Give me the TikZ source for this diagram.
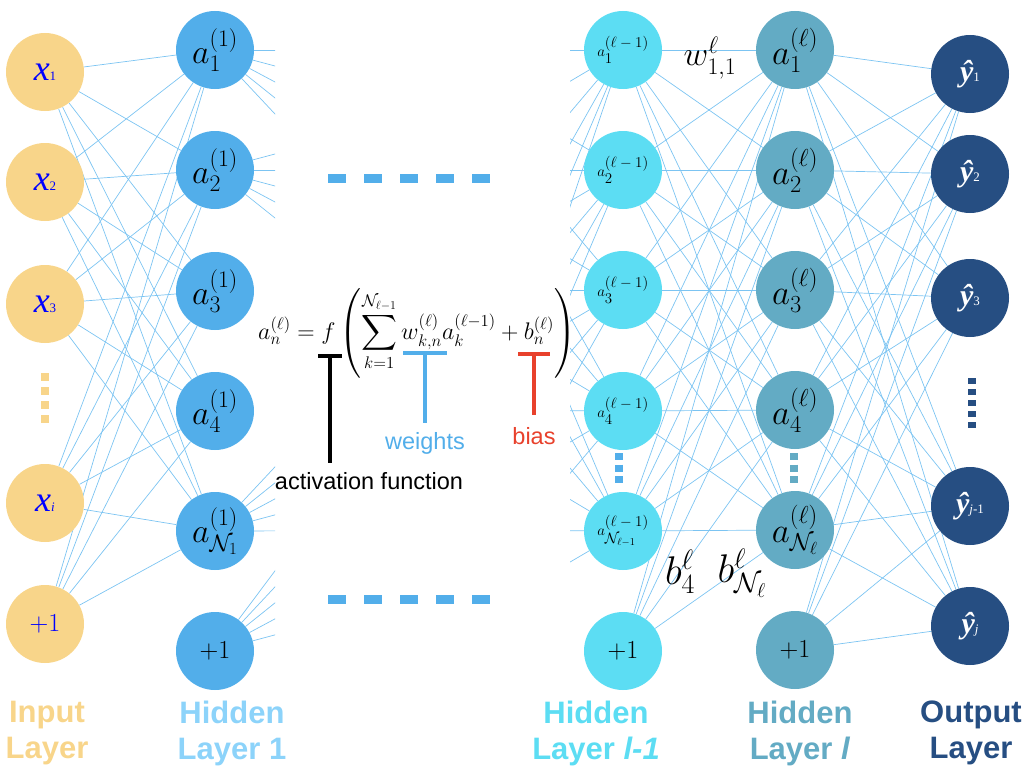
\RequirePackage{fix-cm}
\documentclass[tikz,border=0pt]{standalone}
\usepackage{amsmath}
\usepackage{fontspec}
\newfontfamily\arialfont{Liberation Sans}
\newfontfamily\timesfont{Liberation Serif}
\usepackage{tikz}
\usetikzlibrary{arrows.meta,backgrounds}

\definecolor{inputcol}{HTML}{F8D58A}
\definecolor{hidonecol}{HTML}{52AEEA}
\definecolor{hidonetxt}{HTML}{8CD3FA}
\definecolor{hidprevcol}{HTML}{5CDDF3}
\definecolor{hidcurcol}{HTML}{63ABC4}
\definecolor{outcol}{HTML}{264E82}
\definecolor{edgecol}{HTML}{7CC4F2}
\definecolor{biascol}{HTML}{E8412C}

\newcommand{\xin}[1]{{\timesfont\fontsize{36}{36}\selectfont\itshape x}{\timesfont\fontsize{13}{13}\selectfont #1}}
\newcommand{\yhat}[1]{{\timesfont\bfseries\itshape\fontsize{30}{30}\selectfont ŷ}{\timesfont\fontsize{13}{13}\selectfont #1}}
\newcommand{\aprev}[1]{$a_{\textstyle #1}^{\textstyle(\ell-1)}$}

\tikzset{
  neuron/.style={circle,minimum size=78pt,inner sep=0pt},
  inputneuron/.style={neuron,fill=inputcol,text=blue},
  hiddenone/.style={neuron,fill=hidonecol,font=\fontsize{34}{36}\selectfont},
  hiddenprev/.style={neuron,fill=hidprevcol,font=\fontsize{15}{17}\selectfont},
  hiddencur/.style={neuron,fill=hidcurcol,font=\fontsize{35}{37}\selectfont},
  outneuron/.style={neuron,fill=outcol,text=white},
  plusone/.style={font=\fontsize{26}{28}\selectfont},
  edge/.style={draw=edgecol,line width=0.7pt},
  layerlabel/.style={font=\arialfont\bfseries\fontsize{31}{36}\selectfont,align=center},
  dotcol/.style={line width=8pt},
  bigdash/.style={draw=hidonecol,line width=9pt,dash pattern=on 18pt off 18pt},
  annot/.style={font=\arialfont\fontsize{23.5}{26}\selectfont,inner sep=0pt},
  teebar/.style={line width=4pt}
}

\begin{document}
\begin{tikzpicture}[x=1pt,y=-1pt]
\useasboundingbox (0,0) rectangle (1024,768);

% input layer
\node[inputneuron] (I1) at (45,72) {\xin{1}};
\node[inputneuron] (I2) at (45,182) {\xin{2}};
\node[inputneuron] (I3) at (45,304) {\xin{3}};
\node[inputneuron] (I4) at (45,503) {\xin{\itshape i}};
\node[inputneuron,plusone] (I5) at (45,624) {$+1$};

% hidden layer 1
\node[hiddenone] (H1) at (215,50) {$a_1^{(1)}$};
\node[hiddenone] (H2) at (215,170) {$a_2^{(1)}$};
\node[hiddenone] (H3) at (215,291) {$a_3^{(1)}$};
\node[hiddenone] (H4) at (215,411) {$a_4^{(1)}$};
\node[hiddenone] (H5) at (215,531) {$a_{\mathcal{N}_1}^{(1)}$};
\node[hiddenone,plusone] (H6) at (215,651) {$+1$};

% hidden layer l-1
\node[hiddenprev] (P1) at (623,50) {\aprev{1}};
\node[hiddenprev] (P2) at (623,170) {\aprev{2}};
\node[hiddenprev] (P3) at (623,290) {\aprev{3}};
\node[hiddenprev] (P4) at (623,411) {\aprev{4}};
\node[hiddenprev] (P5) at (623,531) {\aprev{\mathcal{N}_{\ell-1}}};
\node[hiddenprev,plusone] (P6) at (623,651) {$+1$};

% hidden layer l
\node[hiddencur] (L1) at (795,50) {$a_1^{(\ell)}$};
\node[hiddencur] (L2) at (795,170) {$a_2^{(\ell)}$};
\node[hiddencur] (L3) at (795,290) {$a_3^{(\ell)}$};
\node[hiddencur] (L4) at (795,410) {$a_4^{(\ell)}$};
\node[hiddencur] (L5) at (795,530) {$a_{\mathcal{N}_\ell}^{(\ell)}$};
\node[hiddencur,plusone] (L6) at (795,650) {$+1$};

% output layer
\node[outneuron] (O1) at (970,74) {\yhat{1}};
\node[outneuron] (O2) at (970,174) {\yhat{2}};
\node[outneuron] (O3) at (970,298) {\yhat{3}};
\node[outneuron] (O4) at (970,506) {\yhat{{\itshape j}-1}};
\node[outneuron] (O5) at (970,626) {\yhat{\itshape j}};

% layers not shown
\coordinate (M1) at (420,50);
\coordinate (M2) at (420,170);
\coordinate (M3) at (420,290);
\coordinate (M4) at (420,410);
\coordinate (M5) at (420,530);
\coordinate (M6) at (420,650);
\coordinate (N1) at (665,50);
\coordinate (N2) at (665,170);
\coordinate (N3) at (665,290);
\coordinate (N4) at (665,410);
\coordinate (N5) at (665,530);

\begin{pgfonlayer}{background}
\foreach \i in {1,...,5}
  \foreach \j in {1,...,5}
    \draw[edge] (I\i) -- (H\j);
\foreach \i in {1,...,6}
  \foreach \j in {1,...,5}
    \draw[edge] (P\i) -- (L\j);
\foreach \i in {1,...,6}
  \foreach \j in {1,...,5}
    \draw[edge] (L\i) -- (O\j);
\begin{scope}
\clip (0,0) rectangle (275,768);
\foreach \i in {1,2,5,6}
  \foreach \j in {1,...,5}
    \draw[edge] (H\i) -- (N\j);
\end{scope}
\begin{scope}
\clip (570,0) rectangle (1024,768);
\foreach \i in {1,...,5}
  \foreach \j in {1,...,6}
    \draw[edge] (M\j) -- (P\i);
\end{scope}
\end{pgfonlayer}

% dots
\draw[dotcol,draw=inputcol,dash pattern=on 7.5pt off 6.5pt] (45,373) -- (45,427);
\draw[dotcol,draw=hidonecol,dash pattern=on 7pt off 4.5pt] (619,453) -- (619,483);
\draw[dotcol,draw=hidcurcol,dash pattern=on 7pt off 4.5pt] (794,453) -- (794,483);
\draw[dotcol,draw=outcol,dash pattern=on 6pt off 5pt] (972,378) -- (972,428);
\draw[bigdash] (328,178) -- (490,178);
\draw[bigdash] (328,599) -- (490,599);

% weight and bias labels
\node[font=\fontsize{34}{36}\selectfont] (w11) at (710,58) {$w_{1,1}^{\ell}$};
\node[font=\fontsize{40}{42}\selectfont] (b4) at (680,572) {$b_4^{\ell}$};
\node[font=\fontsize{40}{42}\selectfont] (bN) at (742,573) {$b_{\mathcal{N}_\ell}^{\ell}$};

% formula
\node[font=\fontsize{24}{28}\selectfont] (formula) at (417,333)
  {$\displaystyle a_n^{(\ell)} = f\left(\sum_{k=1}^{\mathcal{N}_{\ell-1}} w_{k,n}^{(\ell)} a_k^{(\ell-1)} + b_n^{(\ell)}\right)$};
\node[annot] (act) at (369,481) {activation function};
\node[annot,text=hidonecol] (wts) at (425,443) {weights};
\node[annot,text=biascol] (bias) at (534,436) {bias};
\coordinate (fbar) at (330,354);
\coordinate (wbar) at (425,351);
\coordinate (bbar) at (534,352);
\draw[teebar,{Bar[width=24pt]}-,shorten >=9pt] (fbar) -- (fbar |- act.north);
\draw[teebar,draw=hidonecol,{Bar[width=44pt]}-,shorten >=9pt] (wbar) -- (wbar |- wts.north);
\draw[teebar,draw=biascol,{Bar[width=32pt]}-,shorten >=12pt] (bbar) -- (bbar |- bias.north);

% layer names
\node[layerlabel,text=inputcol] (inlab) at (47,733) {Input\\Layer};
\node[layerlabel,text=hidonetxt] (h1lab) at (232,733) {Hidden\\Layer 1};
\node[layerlabel,text=hidprevcol] (hplab) at (596,733) {Hidden\\Layer \textit{l-1}};
\node[layerlabel,text=hidcurcol] (hllab) at (800,733) {Hidden\\Layer \textit{l}};
\node[layerlabel,text=outcol] (outlab) at (971,733) {Output\\Layer};

\end{tikzpicture}
\end{document}
